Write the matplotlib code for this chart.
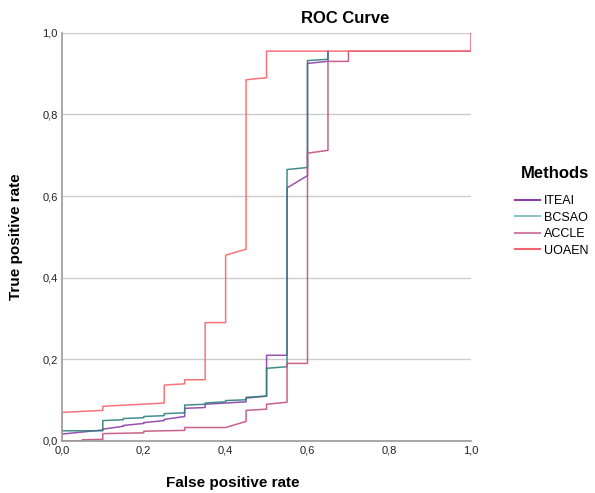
import matplotlib
matplotlib.use("Agg")
from matplotlib import pyplot as plt
from matplotlib.lines import Line2D
from matplotlib.ticker import FuncFormatter

plt.rcParams["font.family"] = ["Liberation Sans", "DejaVu Sans"]

methods = ["ITEAI", "BCSAO", "ACCLE", "UOAEN"]
colors = ["#8a3fa8", "#2f7f80", "#c4507f", "#f8646e"]
legend_colors = ["#8a3fa8", "#8cc4c4", "#d080a8", "#f8646e"]

# step curves (fpr, tpr)
iteai_x = [0, 0.1, 0.1, 0.15, 0.15, 0.2, 0.2, 0.25, 0.25, 0.3, 0.3, 0.35, 0.35, 0.45, 0.45, 0.5, 0.5, 0.55, 0.55, 0.6, 0.6, 0.65, 0.65]
iteai_y = [0.017, 0.027, 0.029, 0.036, 0.038, 0.043, 0.045, 0.05, 0.053, 0.06, 0.08, 0.082, 0.09, 0.096, 0.105, 0.11, 0.21, 0.21, 0.62, 0.65, 0.925, 0.93, 0.955]

bcsao_x = [0, 0.1, 0.1, 0.15, 0.15, 0.2, 0.2, 0.25, 0.25, 0.3, 0.3, 0.35, 0.35, 0.4, 0.4, 0.45, 0.45, 0.5, 0.5, 0.55, 0.55, 0.6, 0.6, 0.65, 0.65]
bcsao_y = [0.025, 0.025, 0.05, 0.052, 0.055, 0.057, 0.06, 0.062, 0.067, 0.069, 0.088, 0.09, 0.093, 0.096, 0.099, 0.101, 0.107, 0.11, 0.178, 0.182, 0.665, 0.67, 0.932, 0.935, 0.955]

accle_x = [0, 0.05, 0.05, 0.1, 0.1, 0.2, 0.2, 0.3, 0.3, 0.4, 0.45, 0.45, 0.5, 0.5, 0.55, 0.55, 0.6, 0.6, 0.65, 0.65, 0.7, 0.7, 1.0, 1.0]
accle_y = [0.0, 0.0, 0.003, 0.004, 0.018, 0.02, 0.024, 0.026, 0.033, 0.033, 0.048, 0.075, 0.078, 0.09, 0.095, 0.19, 0.19, 0.705, 0.712, 0.93, 0.93, 0.955, 0.955, 1.0]

uoaen_x = [0, 0, 0.1, 0.1, 0.25, 0.25, 0.3, 0.3, 0.35, 0.35, 0.4, 0.4, 0.45, 0.45, 0.5, 0.5, 1.0, 1.0]
uoaen_y = [0.0, 0.07, 0.075, 0.085, 0.093, 0.137, 0.14, 0.15, 0.15, 0.29, 0.29, 0.455, 0.47, 0.885, 0.89, 0.955, 0.955, 1.0]

curves = [(iteai_x, iteai_y), (bcsao_x, bcsao_y), (accle_x, accle_y), (uoaen_x, uoaen_y)]

fig = plt.figure(figsize=(5.95, 4.93), dpi=100)
ax = fig.add_axes([0.104, 0.1055, 0.688, 0.828])

for (xs, ys), c in zip(curves, colors):
    ax.plot(xs, ys, color=c, lw=1.1, alpha=0.9)

ax.set_xlim(0, 1)
ax.set_ylim(0, 1)
ax.set_xticks([0, 0.2, 0.4, 0.6, 0.8, 1.0])
ax.set_yticks([0, 0.2, 0.4, 0.6, 0.8, 1.0])
fmt = FuncFormatter(lambda v, p: ("%.1f" % v).replace(".", ","))
ax.xaxis.set_major_formatter(fmt)
ax.yaxis.set_major_formatter(fmt)
ax.tick_params(length=0, labelsize=8, colors="#222222", pad=3)
ax.grid(axis="y", color="#cccccc", lw=1)
ax.set_axisbelow(True)
for s in ["top", "right"]:
    ax.spines[s].set_visible(False)
for s in ["left", "bottom"]:
    ax.spines[s].set_color("#999999")
    ax.spines[s].set_linewidth(1.2)

ax.set_xlabel("False positive rate", fontsize=11, fontweight="bold")
ax.xaxis.set_label_coords(0.418, -0.085)
ax.set_ylabel("True positive rate", fontsize=11, fontweight="bold", labelpad=14)
fig.text(0.58, 0.963, "ROC Curve", fontsize=12, fontweight="bold", ha="center", va="center")

fig.text(555 / 595, 1 - 173 / 493, "Methods", fontsize=12, fontweight="bold", ha="center", va="center")
handles = [Line2D([0], [0], color=c, lw=1.5) for c in legend_colors]
leg = fig.legend(handles, methods, loc="upper left",
                 bbox_to_anchor=(0.866, 0.604), frameon=False, fontsize=9,
                 handlelength=2.0, handletextpad=0.3, labelspacing=0.36,
                 borderpad=0, borderaxespad=0)

fig.savefig("out.png", dpi=100)
